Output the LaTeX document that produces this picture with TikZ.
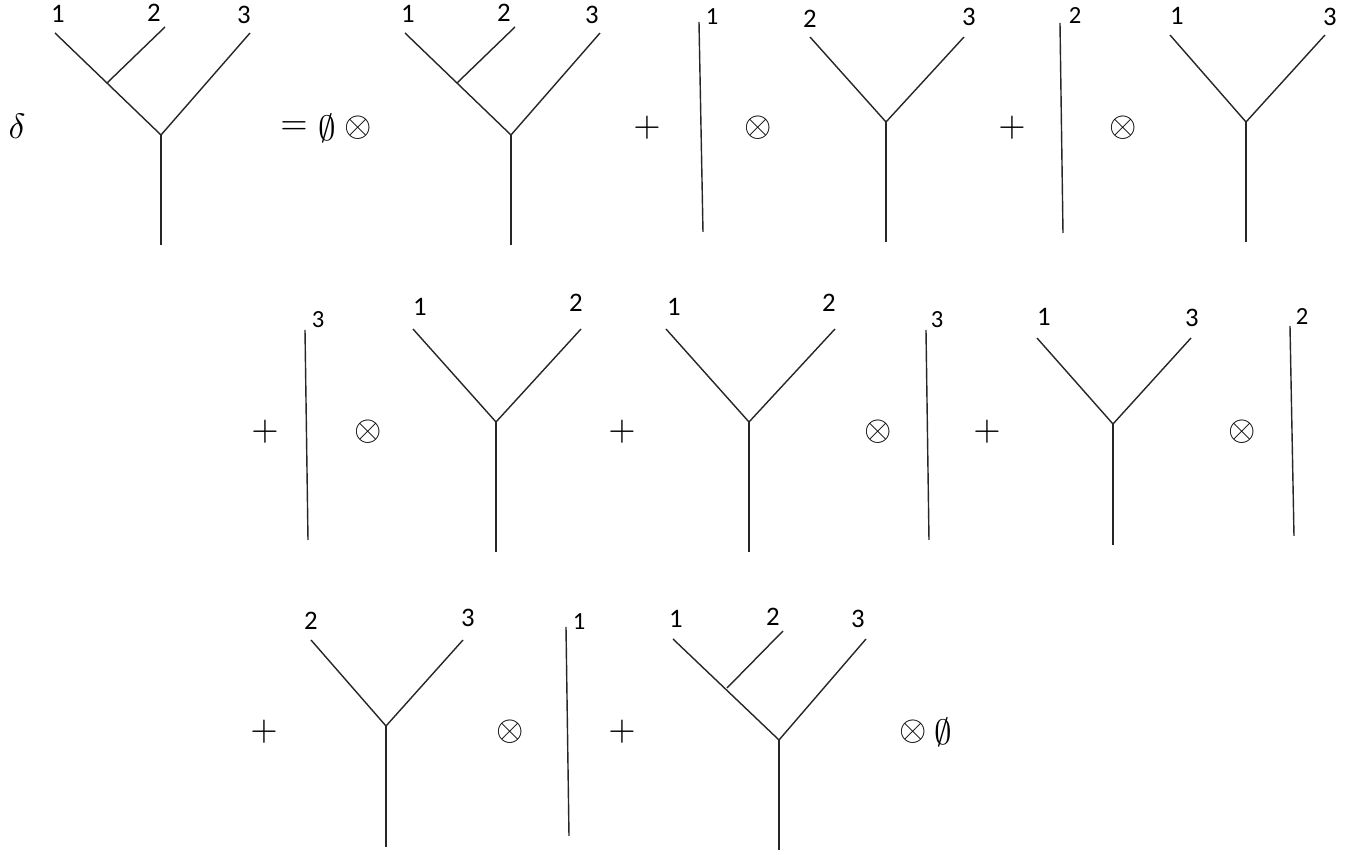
\documentclass[tikz,border=0pt]{standalone}
\usepackage{fontspec}
\newfontfamily\lblfont{Carlito}
\usetikzlibrary{positioning}

\begin{document}
\begin{tikzpicture}[x=0.01cm, y=-0.01cm, line width=0.4pt, draw=black!85,
    leaf/.style={font=\lblfont\fontsize{7.6}{9}\selectfont, inner sep=0pt},
    stub/.style={font=\lblfont\fontsize{7}{8}\selectfont, inner sep=0pt},
    op/.style={font=\fontsize{10}{12}\selectfont, inner sep=0pt}]
    \useasboundingbox (0,0) rectangle (1356,855);

    % ---- row 1 ----
    \node[op] (delta) at (17,126) {$\delta$};
    \coordinate (a1) at (55,33);   \coordinate (a2) at (165,27);  \coordinate (a3) at (250,33);
    \coordinate (ai) at (107,83);  \coordinate (ar) at (161,135); \coordinate (ab) at (161,245);
    \node[leaf] (la1) at (58,14) {1};
    \node[leaf] (la2) at (154,13) {2};
    \node[leaf] (la3) at (244,15) {3};
    \draw (a1) -- (ar) -- (a3);
    \draw (a2) -- (ai);
    \draw (ar) -- (ab);

    \node[op] (eq) at (294,128) {$=$};
    \node[op] (e1) at (327,128) {$\emptyset$};
    \node[op] (t1) at (358,128) {$\otimes$};

    \coordinate (b1) at (405,33);  \coordinate (b2) at (515,27);  \coordinate (b3) at (600,33);
    \coordinate (bi) at (457,83);  \coordinate (br) at (511,135); \coordinate (bb) at (511,245);
    \node[leaf] (lb1) at (408,14) {1};
    \node[leaf] (lb2) at (504,13) {2};
    \node[leaf] (lb3) at (592,15) {3};
    \draw (b1) -- (br) -- (b3);
    \draw (b2) -- (bi);
    \draw (br) -- (bb);

    \node[op] (p1) at (647,128) {$+$};
    \coordinate (c1) at (699,22); \coordinate (c2) at (703,232);
    \node[stub] (lc) at (712,17) {1};
    \draw (c1) -- (c2);
    \node[op] (t2) at (758,128) {$\otimes$};

    \coordinate (d2) at (810,37);  \coordinate (d3) at (964,37);
    \coordinate (dr) at (886,122); \coordinate (db) at (886,242);
    \node[leaf] (ld2) at (810,19) {2};
    \node[leaf] (ld3) at (969,17) {3};
    \draw (d2) -- (dr) -- (d3);
    \draw (dr) -- (db);

    \node[op] (p2) at (1012,128) {$+$};
    \coordinate (e1t) at (1060,23); \coordinate (e1b) at (1063,233);
    \node[stub] (le) at (1075,16) {2};
    \draw (e1t) -- (e1b);
    \node[op] (t3) at (1123,128) {$\otimes$};

    \coordinate (f1) at (1170,35);  \coordinate (f3) at (1325,35);
    \coordinate (fr) at (1246,122); \coordinate (fb) at (1246,242);
    \node[leaf] (lf1) at (1177,16) {1};
    \node[leaf] (lf3) at (1330,17) {3};
    \draw (f1) -- (fr) -- (f3);
    \draw (fr) -- (fb);

    % ---- row 2 ----
    \node[op] (p3) at (265,432) {$+$};
    \coordinate (g1) at (305,330); \coordinate (g2) at (308,540);
    \node[stub] (lg) at (318,320) {3};
    \draw (g1) -- (g2);
    \node[op] (t4) at (368,432) {$\otimes$};

    \coordinate (h1) at (413,329);  \coordinate (h2) at (581,329);
    \coordinate (hr) at (496,422);  \coordinate (hb) at (496,552);
    \node[leaf] (lh1) at (420,307) {1};
    \node[leaf] (lh2) at (576,303) {2};
    \draw (h1) -- (hr) -- (h2);
    \draw (hr) -- (hb);

    \node[op] (p4) at (622,432) {$+$};
    \coordinate (i1) at (666,329);  \coordinate (i2) at (835,329);
    \coordinate (ir) at (749,422);  \coordinate (ib) at (749,552);
    \node[leaf] (li1) at (674,307) {1};
    \node[leaf] (li2) at (829,303) {2};
    \draw (i1) -- (ir) -- (i2);
    \draw (ir) -- (ib);

    \node[op] (t5) at (878,432) {$\otimes$};
    \coordinate (j1) at (926,330); \coordinate (j2) at (929,540);
    \node[stub] (lj) at (937,320) {3};
    \draw (j1) -- (j2);

    \node[op] (p5) at (987,432) {$+$};
    \coordinate (k1) at (1037,338); \coordinate (k3) at (1191,338);
    \coordinate (kr) at (1113,424); \coordinate (kb) at (1113,545);
    \node[leaf] (lk1) at (1044,317) {1};
    \node[leaf] (lk3) at (1192,318) {3};
    \draw (k1) -- (kr) -- (k3);
    \draw (kr) -- (kb);

    \node[op] (t6) at (1242,432) {$\otimes$};
    \coordinate (l1) at (1290,326); \coordinate (l2) at (1294,536);
    \node[stub] (ll) at (1302,317) {2};
    \draw (l1) -- (l2);

    % ---- row 3 ----
    \node[op] (p6) at (264,732) {$+$};
    \coordinate (m2) at (311,640);  \coordinate (m3) at (463,640);
    \coordinate (mr) at (386,726);  \coordinate (mb) at (386,847);
    \node[leaf] (lm2) at (311,621) {2};
    \node[leaf] (lm3) at (468,618) {3};
    \draw (m2) -- (mr) -- (m3);
    \draw (mr) -- (mb);

    \node[op] (t7) at (510,732) {$\otimes$};
    \coordinate (n1) at (566,627); \coordinate (n2) at (569,836);
    \node[stub] (ln) at (579,622) {1};
    \draw (n1) -- (n2);

    \node[op] (p7) at (622,732) {$+$};
    \coordinate (q1) at (673,639);  \coordinate (q2) at (783,631); \coordinate (q3) at (866,639);
    \coordinate (qi) at (727,688);  \coordinate (qr) at (779,740); \coordinate (qb) at (779,850);
    \node[leaf] (lq1) at (676,619) {1};
    \node[leaf] (lq2) at (773,617) {2};
    \node[leaf] (lq3) at (858,619) {3};
    \draw (q1) -- (qr) -- (q3);
    \draw (q2) -- (qi);
    \draw (qr) -- (qb);

    \node[op] (t8) at (913,732) {$\otimes$};
    \node[op] (e2) at (943,732) {$\emptyset$};
\end{tikzpicture}
\end{document}
